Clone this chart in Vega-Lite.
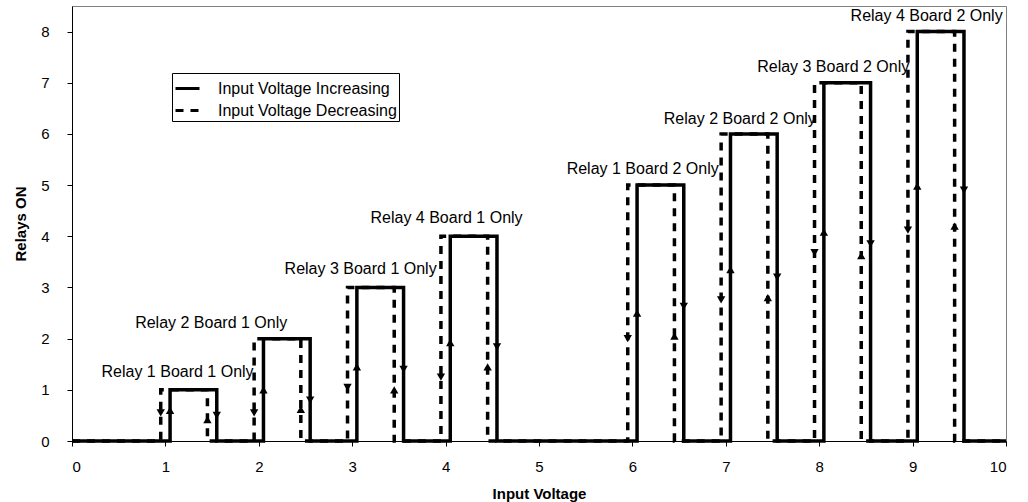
{
  "$schema": "https://vega.github.io/schema/vega-lite/v6.json",
  "width": 934,
  "height": 435,
  "autosize": "none",
  "padding": {"left": 72, "top": 6, "right": 22, "bottom": 61},
  "background": "white",
  "config": {
    "font": "Liberation Sans",
    "view": {"stroke": "#808080", "strokeWidth": 1},
    "axis": {
      "grid": false,
      "domainColor": "black",
      "tickColor": "black",
      "labelColor": "black",
      "titleColor": "black",
      "labelFont": "Liberation Sans",
      "titleFont": "Liberation Sans",
      "labelFontSize": 15,
      "titleFontSize": 15,
      "titleFontWeight": "bold",
      "tickSize": 5,
      "domainWidth": 1,
      "tickWidth": 1
    }
  },
  "datasets": {
    "lines": [
      {"series": "Input Voltage Increasing", "i": 0, "x": 0, "y": 0},
      {"series": "Input Voltage Increasing", "i": 1, "x": 1.05, "y": 0},
      {"series": "Input Voltage Increasing", "i": 2, "x": 1.05, "y": 1},
      {"series": "Input Voltage Increasing", "i": 3, "x": 1.55, "y": 1},
      {"series": "Input Voltage Increasing", "i": 4, "x": 1.55, "y": 0},
      {"series": "Input Voltage Increasing", "i": 5, "x": 2.05, "y": 0},
      {"series": "Input Voltage Increasing", "i": 6, "x": 2.05, "y": 2},
      {"series": "Input Voltage Increasing", "i": 7, "x": 2.55, "y": 2},
      {"series": "Input Voltage Increasing", "i": 8, "x": 2.55, "y": 0},
      {"series": "Input Voltage Increasing", "i": 9, "x": 3.05, "y": 0},
      {"series": "Input Voltage Increasing", "i": 10, "x": 3.05, "y": 3},
      {"series": "Input Voltage Increasing", "i": 11, "x": 3.55, "y": 3},
      {"series": "Input Voltage Increasing", "i": 12, "x": 3.55, "y": 0},
      {"series": "Input Voltage Increasing", "i": 13, "x": 4.05, "y": 0},
      {"series": "Input Voltage Increasing", "i": 14, "x": 4.05, "y": 4},
      {"series": "Input Voltage Increasing", "i": 15, "x": 4.55, "y": 4},
      {"series": "Input Voltage Increasing", "i": 16, "x": 4.55, "y": 0},
      {"series": "Input Voltage Increasing", "i": 17, "x": 6.05, "y": 0},
      {"series": "Input Voltage Increasing", "i": 18, "x": 6.05, "y": 5},
      {"series": "Input Voltage Increasing", "i": 19, "x": 6.55, "y": 5},
      {"series": "Input Voltage Increasing", "i": 20, "x": 6.55, "y": 0},
      {"series": "Input Voltage Increasing", "i": 21, "x": 7.05, "y": 0},
      {"series": "Input Voltage Increasing", "i": 22, "x": 7.05, "y": 6},
      {"series": "Input Voltage Increasing", "i": 23, "x": 7.55, "y": 6},
      {"series": "Input Voltage Increasing", "i": 24, "x": 7.55, "y": 0},
      {"series": "Input Voltage Increasing", "i": 25, "x": 8.05, "y": 0},
      {"series": "Input Voltage Increasing", "i": 26, "x": 8.05, "y": 7},
      {"series": "Input Voltage Increasing", "i": 27, "x": 8.55, "y": 7},
      {"series": "Input Voltage Increasing", "i": 28, "x": 8.55, "y": 0},
      {"series": "Input Voltage Increasing", "i": 29, "x": 9.05, "y": 0},
      {"series": "Input Voltage Increasing", "i": 30, "x": 9.05, "y": 8},
      {"series": "Input Voltage Increasing", "i": 31, "x": 9.55, "y": 8},
      {"series": "Input Voltage Increasing", "i": 32, "x": 9.55, "y": 0},
      {"series": "Input Voltage Increasing", "i": 33, "x": 10, "y": 0},
      {"series": "Input Voltage Decreasing", "i": 0, "x": 0, "y": 0},
      {"series": "Input Voltage Decreasing", "i": 1, "x": 0.95, "y": 0},
      {"series": "Input Voltage Decreasing", "i": 2, "x": 0.95, "y": 1},
      {"series": "Input Voltage Decreasing", "i": 3, "x": 1.45, "y": 1},
      {"series": "Input Voltage Decreasing", "i": 4, "x": 1.45, "y": 0},
      {"series": "Input Voltage Decreasing", "i": 5, "x": 1.95, "y": 0},
      {"series": "Input Voltage Decreasing", "i": 6, "x": 1.95, "y": 2},
      {"series": "Input Voltage Decreasing", "i": 7, "x": 2.45, "y": 2},
      {"series": "Input Voltage Decreasing", "i": 8, "x": 2.45, "y": 0},
      {"series": "Input Voltage Decreasing", "i": 9, "x": 2.95, "y": 0},
      {"series": "Input Voltage Decreasing", "i": 10, "x": 2.95, "y": 3},
      {"series": "Input Voltage Decreasing", "i": 11, "x": 3.45, "y": 3},
      {"series": "Input Voltage Decreasing", "i": 12, "x": 3.45, "y": 0},
      {"series": "Input Voltage Decreasing", "i": 13, "x": 3.95, "y": 0},
      {"series": "Input Voltage Decreasing", "i": 14, "x": 3.95, "y": 4},
      {"series": "Input Voltage Decreasing", "i": 15, "x": 4.45, "y": 4},
      {"series": "Input Voltage Decreasing", "i": 16, "x": 4.45, "y": 0},
      {"series": "Input Voltage Decreasing", "i": 17, "x": 5.95, "y": 0},
      {"series": "Input Voltage Decreasing", "i": 18, "x": 5.95, "y": 5},
      {"series": "Input Voltage Decreasing", "i": 19, "x": 6.45, "y": 5},
      {"series": "Input Voltage Decreasing", "i": 20, "x": 6.45, "y": 0},
      {"series": "Input Voltage Decreasing", "i": 21, "x": 6.95, "y": 0},
      {"series": "Input Voltage Decreasing", "i": 22, "x": 6.95, "y": 6},
      {"series": "Input Voltage Decreasing", "i": 23, "x": 7.45, "y": 6},
      {"series": "Input Voltage Decreasing", "i": 24, "x": 7.45, "y": 0},
      {"series": "Input Voltage Decreasing", "i": 25, "x": 7.95, "y": 0},
      {"series": "Input Voltage Decreasing", "i": 26, "x": 7.95, "y": 7},
      {"series": "Input Voltage Decreasing", "i": 27, "x": 8.45, "y": 7},
      {"series": "Input Voltage Decreasing", "i": 28, "x": 8.45, "y": 0},
      {"series": "Input Voltage Decreasing", "i": 29, "x": 8.95, "y": 0},
      {"series": "Input Voltage Decreasing", "i": 30, "x": 8.95, "y": 8},
      {"series": "Input Voltage Decreasing", "i": 31, "x": 9.45, "y": 8},
      {"series": "Input Voltage Decreasing", "i": 32, "x": 9.45, "y": 0},
      {"series": "Input Voltage Decreasing", "i": 33, "x": 10, "y": 0}
    ],
    "arrows": [
      {"x": 1.05, "y": 0.6, "dir": "up"},
      {"x": 1.55, "y": 0.5, "dir": "down"},
      {"x": 0.95, "y": 0.55, "dir": "down"},
      {"x": 1.45, "y": 0.42, "dir": "up"},
      {"x": 2.05, "y": 1.0, "dir": "up"},
      {"x": 2.55, "y": 0.8, "dir": "down"},
      {"x": 1.95, "y": 0.55, "dir": "down"},
      {"x": 2.45, "y": 0.62, "dir": "up"},
      {"x": 3.05, "y": 1.45, "dir": "up"},
      {"x": 3.55, "y": 1.4, "dir": "down"},
      {"x": 2.95, "y": 1.05, "dir": "down"},
      {"x": 3.45, "y": 1.0, "dir": "up"},
      {"x": 4.05, "y": 1.92, "dir": "up"},
      {"x": 4.55, "y": 1.84, "dir": "down"},
      {"x": 3.95, "y": 1.25, "dir": "down"},
      {"x": 4.45, "y": 1.45, "dir": "up"},
      {"x": 6.05, "y": 2.5, "dir": "up"},
      {"x": 6.55, "y": 2.63, "dir": "down"},
      {"x": 5.95, "y": 2.0, "dir": "down"},
      {"x": 6.45, "y": 2.05, "dir": "up"},
      {"x": 7.05, "y": 3.35, "dir": "up"},
      {"x": 7.55, "y": 3.2, "dir": "down"},
      {"x": 6.95, "y": 2.76, "dir": "down"},
      {"x": 7.45, "y": 2.8, "dir": "up"},
      {"x": 8.05, "y": 4.08, "dir": "up"},
      {"x": 8.55, "y": 3.85, "dir": "down"},
      {"x": 7.95, "y": 3.68, "dir": "down"},
      {"x": 8.45, "y": 3.62, "dir": "up"},
      {"x": 9.05, "y": 4.98, "dir": "up"},
      {"x": 9.55, "y": 4.9, "dir": "down"},
      {"x": 8.95, "y": 4.12, "dir": "down"},
      {"x": 9.45, "y": 4.2, "dir": "up"}
    ],
    "labels": [
      {"label": "Relay 1 Board 1 Only", "x": 1.13, "y": 1.35},
      {"label": "Relay 2 Board 1 Only", "x": 1.49, "y": 2.3},
      {"label": "Relay 3 Board 1 Only", "x": 3.09, "y": 3.37},
      {"label": "Relay 4 Board 1 Only", "x": 4.01, "y": 4.35},
      {"label": "Relay 1 Board 2 Only", "x": 6.11, "y": 5.31},
      {"label": "Relay 2 Board 2 Only", "x": 7.15, "y": 6.3},
      {"label": "Relay 3 Board 2 Only", "x": 8.15, "y": 7.3},
      {"label": "Relay 4 Board 2 Only", "x": 9.15, "y": 8.3}
    ]
  },
  "encoding": {
    "x": {
      "field": "x",
      "type": "quantitative",
      "scale": {"domain": [0, 10], "nice": false, "zero": true},
      "axis": {"title": "Input Voltage", "values": [0,1,2,3,4,5,6,7,8,9,10], "format": "d", "labelPadding": 13, "titlePadding": 12}
    },
    "y": {
      "field": "y",
      "type": "quantitative",
      "scale": {"domain": [0, 8.5], "nice": false},
      "axis": {"title": "Relays ON", "values": [0,1,2,3,4,5,6,7,8], "format": "d", "labelPadding": 18, "titlePadding": 12}
    }
  },
  "layer": [
    {
      "data": {"name": "lines"},
      "mark": {"type": "line", "color": "black", "strokeWidth": 3.5, "strokeCap": "butt", "strokeJoin": "miter", "clip": false},
      "encoding": {
        "order": {"field": "i", "type": "quantitative"},
        "detail": {"field": "series", "type": "nominal"},
        "strokeDash": {
          "field": "series",
          "type": "nominal",
          "scale": {"domain": ["Input Voltage Increasing", "Input Voltage Decreasing"], "range": [[1, 0], [8, 7]]},
          "legend": {
            "title": null,
            "orient": "none",
            "legendX": 100,
            "legendY": 67,
            "symbolType": "stroke",
            "symbolStrokeColor": "black",
            "symbolStrokeWidth": 3,
            "symbolSize": 576,
            "symbolDash": [7, 10],
            "labelFontSize": 16,
            "labelFont": "Liberation Sans",
            "labelColor": "black",
            "labelLimit": 300,
            "labelOffset": 17,
            "rowPadding": 0,
            "strokeColor": "black",
            "padding": 2,
            "fillColor": "white"
          }
        }
      }
    },
    {
      "data": {"name": "arrows"},
      "mark": {"type": "point", "filled": true, "color": "black", "opacity": 1, "size": 70},
      "encoding": {
        "shape": {
          "field": "dir",
          "type": "nominal",
          "scale": {"domain": ["up", "down"], "range": ["triangle-up", "triangle-down"]},
          "legend": null
        }
      }
    },
    {
      "data": {"name": "labels"},
      "mark": {"type": "text", "color": "black", "fontSize": 16, "font": "Liberation Sans", "align": "center", "baseline": "middle"},
      "encoding": {
        "text": {"field": "label", "type": "nominal"}
      }
    }
  ]
}
